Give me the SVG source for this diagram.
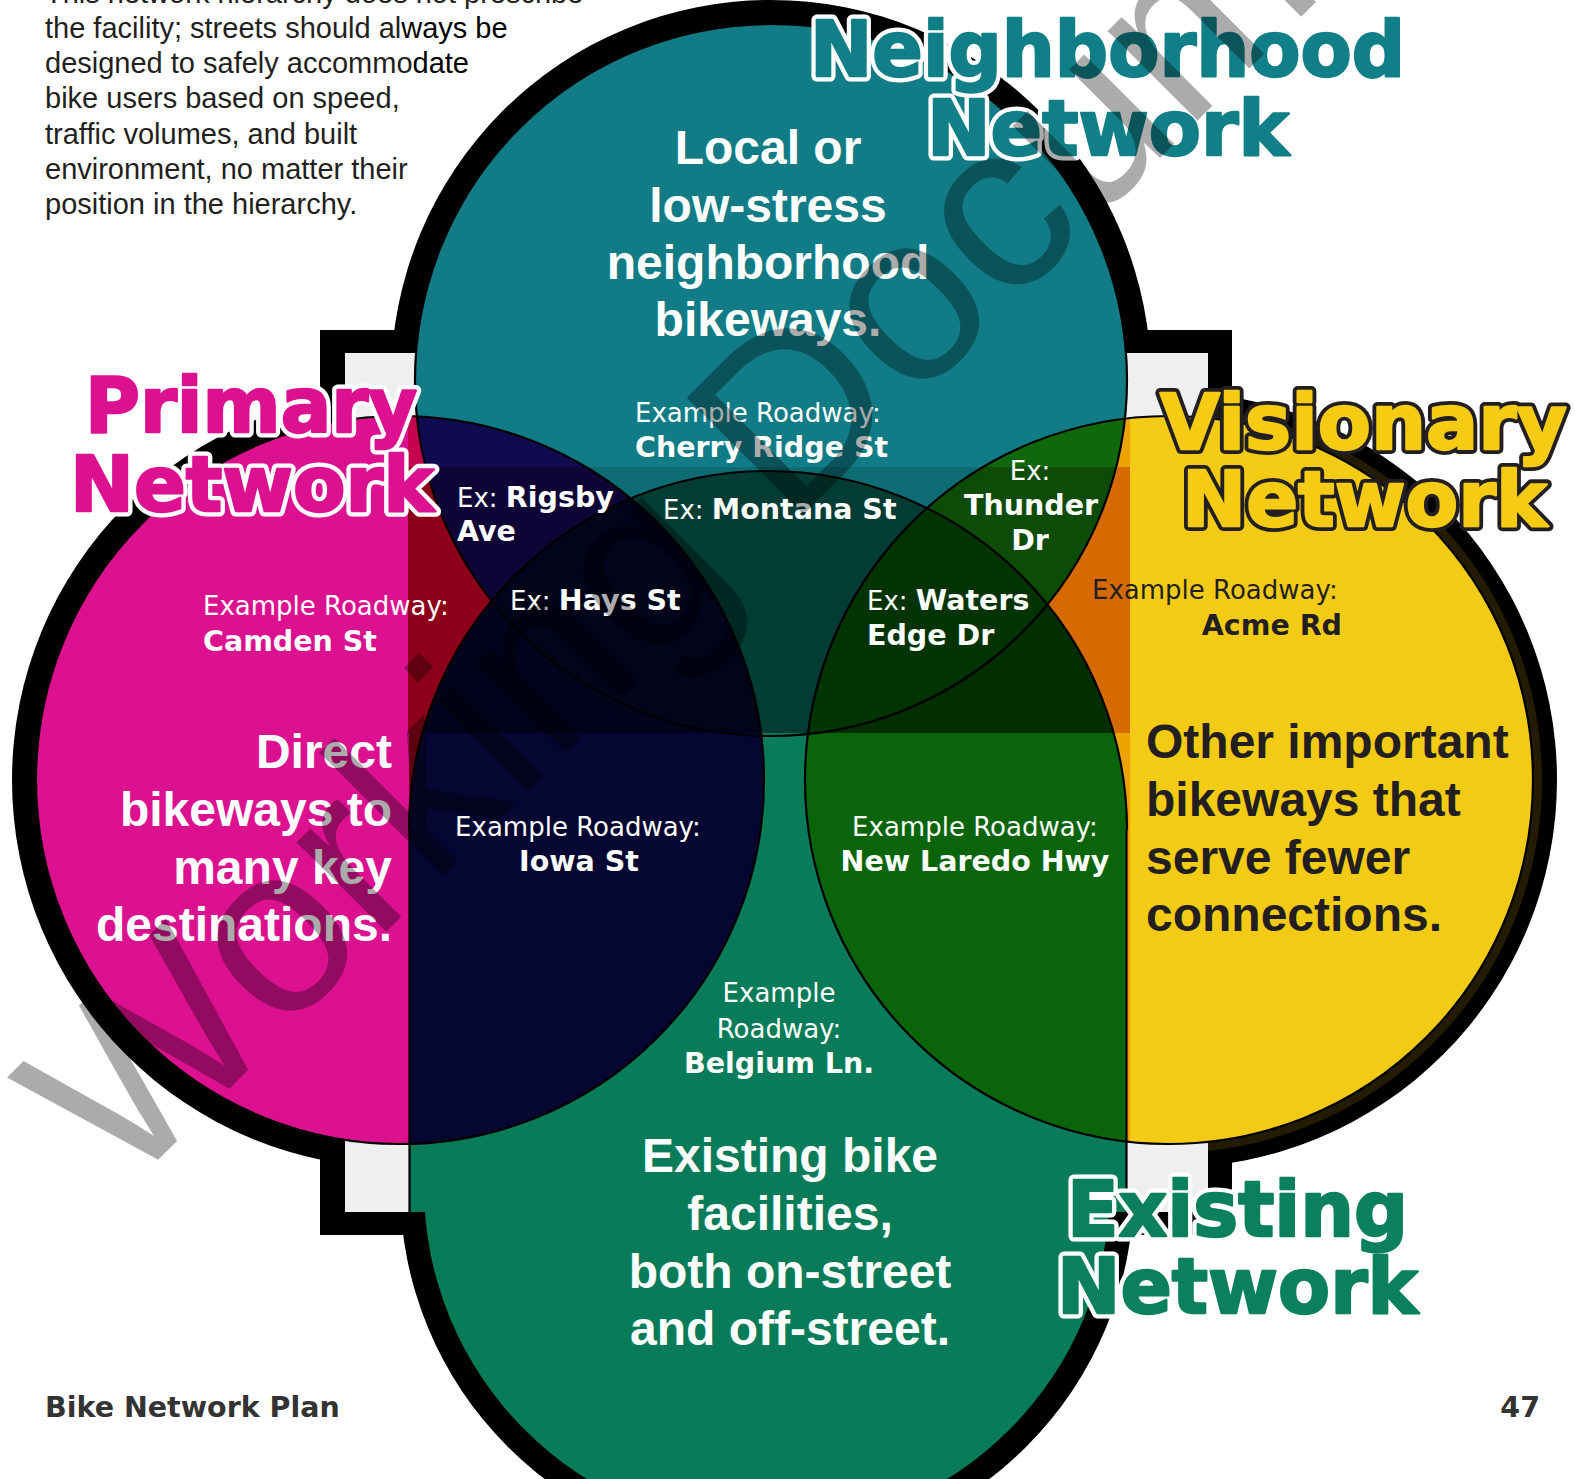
<svg xmlns="http://www.w3.org/2000/svg" width="1575" height="1479" viewBox="0 0 1575 1479">
<style>
.p{font-family:"Liberation Sans",Arial,sans-serif;font-size:29px;fill:#231f20}
.l{font-family:"DejaVu Sans",sans-serif;font-size:26px;fill:#fff}
.b{font-weight:bold;font-size:28.5px}
.big{font-family:"Liberation Sans",Arial,sans-serif;font-weight:bold;font-size:48px;fill:#fff}
.l.dk,.big.dk{fill:#231f20}
.ttl{font-family:"DejaVu Sans",sans-serif;font-weight:bold;font-size:76px;stroke-linejoin:round}
.o{stroke:#fff;stroke-width:11px}
.o.v{stroke:#231f20;stroke-width:10px}
.f{stroke-width:2.4px}
.teal{fill:#117f87}.teal.f{stroke:#117f87}
.pink{fill:#dc1190}.pink.f{stroke:#dc1190}
.yel{fill:#f5cb14}.yel.f{stroke:#f5cb14}
.grn{fill:#0a805c}.grn.f{stroke:#0a805c}
.foot{font-family:"DejaVu Sans",sans-serif;font-weight:bold;font-size:28.5px;fill:#333}
.thin{fill:none;stroke:#000;stroke-width:2.2}
</style>
<defs>
<circle id="T" cx="771" cy="380" r="356"/>
<circle id="L" cx="400" cy="780" r="364"/>
<circle id="R" cx="1169" cy="780" r="364"/>
<path id="E" d="M409 830 A359 359 0 0 1 1127 830 L1127 1212 L409 1212 Z"/>
<clipPath id="cL"><circle cx="400" cy="780" r="364"/></clipPath>
<clipPath id="cT"><circle cx="771" cy="380" r="356"/></clipPath>
<clipPath id="cR"><circle cx="1169" cy="780" r="364"/></clipPath>
<clipPath id="zTop"><rect x="408" y="413" width="722" height="54"/></clipPath>
<clipPath id="zBand"><rect x="408" y="467" width="722" height="266"/></clipPath>
<clipPath id="zBot"><rect x="409" y="733" width="721" height="414"/></clipPath>
<text id="t1" class="ttl" x="810" y="76" textLength="595" lengthAdjust="spacingAndGlyphs">Neighborhood</text>
<text id="t2" class="ttl" x="927" y="155" textLength="362" lengthAdjust="spacingAndGlyphs">Network</text>
<text id="t3" class="ttl" x="85" y="432" textLength="332" lengthAdjust="spacingAndGlyphs">Primary</text>
<text id="t4" class="ttl" x="70" y="511" textLength="364" lengthAdjust="spacingAndGlyphs">Network</text>
<text id="t5" class="ttl" x="1160" y="449" textLength="407" lengthAdjust="spacingAndGlyphs">Visionary</text>
<text id="t6" class="ttl" x="1182" y="526" textLength="365" lengthAdjust="spacingAndGlyphs">Network</text>
<text id="t7" class="ttl" x="1067" y="1236" textLength="341" lengthAdjust="spacingAndGlyphs">Existing</text>
<text id="t8" class="ttl" x="1057" y="1313" textLength="361" lengthAdjust="spacingAndGlyphs">Network</text>
</defs>
<rect width="1575" height="1479" fill="#fff"/>

<g id="outline">
<rect x="320" y="330" width="912" height="905" fill="#000"/>
<circle cx="771" cy="380" r="380" fill="#000"/>
<circle cx="400" cy="780" r="388" fill="#000"/>
<circle cx="1169" cy="780" r="388" fill="#000"/>
<circle cx="767" cy="1187" r="367" fill="#000"/>
<circle cx="1169" cy="780" r="368.5" fill="none" stroke="#241b03" stroke-width="9"/>
<rect x="345" y="353" width="863" height="859" fill="#eeeff1"/>
</g>

<g id="node-neighborhood"><use href="#T" fill="#117c86"/></g>
<g id="node-primary"><use href="#L" fill="#dc1190"/></g>
<g id="node-visionary"><use href="#R" fill="#f4cb14"/></g>
<g id="node-existing"><circle cx="767" cy="1187" r="343" fill="#087b58"/><use href="#E" fill="#087b58"/></g>

<g id="overlaps">
<g clip-path="url(#zTop)">
<use href="#L" fill="#c5004f"/>
<use href="#T" fill="#117c86"/>
<use href="#R" fill="#eba300"/>
<g clip-path="url(#cL)"><use href="#T" fill="#100b50"/></g>
<g clip-path="url(#cR)"><use href="#T" fill="#0f680c"/></g>
</g>
<g clip-path="url(#zBand)">
<use href="#L" fill="#8c001a"/>
<use href="#T" fill="#0d6b74"/>
<use href="#R" fill="#d56b00"/>
<use href="#E" fill="#04503c"/>
<g clip-path="url(#cL)"><use href="#T" fill="#0e0536"/><use href="#E" fill="#01031b"/></g>
<g clip-path="url(#cT)"><use href="#E" fill="#013d35"/></g>
<g clip-path="url(#cR)"><use href="#T" fill="#0c4c06"/><use href="#E" fill="#032e02"/></g>
<g clip-path="url(#cL)"><g clip-path="url(#cT)"><use href="#E" fill="#02041a"/></g></g>
<g clip-path="url(#cR)"><g clip-path="url(#cT)"><use href="#E" fill="#023403"/></g></g>
</g>
<g clip-path="url(#zBot)">
<use href="#L" fill="#8c001a"/>
<use href="#R" fill="#eba300"/>
<use href="#E" fill="#087b58"/>
<g clip-path="url(#cL)"><use href="#E" fill="#060632"/></g>
<g clip-path="url(#cR)"><use href="#E" fill="#0a650a"/></g>
</g>
</g>

<g id="connectors" class="thin">
<use href="#T"/>
<use href="#L"/>
<use href="#R"/>
<path d="M409 830 A359 359 0 0 1 1127 830"/>
<path d="M409.5 830 V1212 M1126.5 830 V1212"/>
</g>

<g id="intro">
<text class="p" x="45" y="3">This network hierarchy does not prescribe</text>
<text class="p" x="45" y="38">the facility; streets should al<tspan fill="#000">ways be</tspan></text>
<text class="p" x="45" y="73">designed to safely accommo<tspan fill="#000">date</tspan></text>
<text class="p" x="45" y="108">bike users based on speed,</text>
<text class="p" x="45" y="144">traffic volumes, and built</text>
<text class="p" x="45" y="179">environment, no matter their</text>
<text class="p" x="45" y="214">position in the hierarchy.</text>
</g>

<g id="title-neighborhood">
<use href="#t1" class="o teal"/><use href="#t2" class="o teal"/>
<use href="#t1" class="f teal"/><use href="#t2" class="f teal"/>
</g>
<g id="title-primary">
<use href="#t3" class="o pink"/><use href="#t4" class="o pink"/>
<use href="#t3" class="f pink"/><use href="#t4" class="f pink"/>
</g>
<g id="title-visionary">
<use href="#t5" class="o v yel"/><use href="#t6" class="o v yel"/>
<use href="#t5" class="f yel"/><use href="#t6" class="f yel"/>
</g>
<g id="title-existing">
<use href="#t7" class="o grn"/><use href="#t8" class="o grn"/>
<use href="#t7" class="f grn"/><use href="#t8" class="f grn"/>
</g>

<g id="desc-neighborhood" text-anchor="middle">
<text class="big" x="768" y="164">Local or</text>
<text class="big" x="768" y="222">low-stress</text>
<text class="big" x="768" y="279">neighborhood</text>
<text class="big" x="768" y="336">bikeways.</text>
</g>
<g id="desc-primary" text-anchor="end">
<text class="big" x="392" y="768">Direct</text>
<text class="big" x="392" y="826">bikeways to</text>
<text class="big" x="392" y="884">many key</text>
<text class="big" x="392" y="941">destinations.</text>
</g>
<g id="desc-visionary">
<text class="big dk" x="1146" y="758">Other important</text>
<text class="big dk" x="1146" y="816">bikeways that</text>
<text class="big dk" x="1146" y="874">serve fewer</text>
<text class="big dk" x="1146" y="931">connections.</text>
</g>
<g id="desc-existing" text-anchor="middle">
<text class="big" x="790" y="1172">Existing bike</text>
<text class="big" x="790" y="1230">facilities,</text>
<text class="big" x="790" y="1288">both on-street</text>
<text class="big" x="790" y="1345">and off-street.</text>
</g>

<g id="labels">
<text class="l" x="635" y="422">Example Roadway:</text>
<text class="l b" x="635" y="457">Cherry Ridge St</text>
<text class="l" x="457" y="507">Ex: <tspan class="b">Rigsby</tspan></text>
<text class="l b" x="457" y="541">Ave</text>
<text class="l" x="663" y="519">Ex: <tspan class="b">Montana St</tspan></text>
<text class="l" x="1030" y="480" text-anchor="middle">Ex:</text>
<text class="l b" x="1031" y="515" text-anchor="middle">Thunder</text>
<text class="l b" x="1030" y="550" text-anchor="middle">Dr</text>
<text class="l" x="510" y="610">Ex: <tspan class="b">Hays St</tspan></text>
<text class="l" x="867" y="610">Ex: <tspan class="b">Waters</tspan></text>
<text class="l b" x="867" y="645">Edge Dr</text>
<text class="l" x="203" y="615">Example Roadway:</text>
<text class="l b" x="203" y="651">Camden St</text>
<text class="l dk" x="1092" y="599">Example Roadway:</text>
<text class="l b dk" x="1342" y="635" text-anchor="end">Acme Rd</text>
<text class="l" x="578" y="836" text-anchor="middle">Example Roadway:</text>
<text class="l b" x="579" y="871" text-anchor="middle">Iowa St</text>
<text class="l" x="975" y="836" text-anchor="middle">Example Roadway:</text>
<text class="l b" x="975" y="871" text-anchor="middle">New Laredo Hwy</text>
<text class="l" x="779" y="1002" text-anchor="middle">Example</text>
<text class="l" x="779" y="1038" text-anchor="middle">Roadway:</text>
<text class="l b" x="779" y="1073" text-anchor="middle">Belgium Ln.</text>
</g>

<g id="footer">
<text class="foot" x="45" y="1417">Bike Network Plan</text>
<text class="foot" x="1540" y="1417" text-anchor="end">47</text>
</g>

<text id="watermark" transform="translate(123 1195) rotate(-45)" font-family="Liberation Sans, Arial, sans-serif" font-size="240" fill="#000" fill-opacity="0.33">Working Document</text>
</svg>
